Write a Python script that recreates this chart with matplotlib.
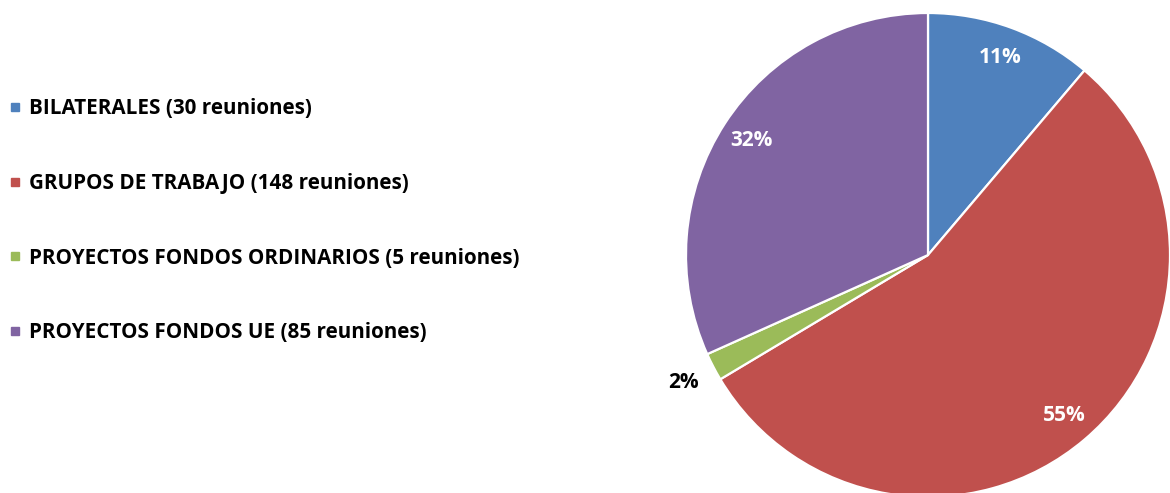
import matplotlib.pyplot as plt
from matplotlib.patches import Rectangle

# Datos del grafico
categorias = ["BILATERALES", "GRUPOS DE TRABAJO", "PROYECTOS FONDOS ORDINARIOS", "PROYECTOS FONDOS UE"]
reuniones = [30, 148, 5, 85]
colores = ["#4F81BD", "#C0504D", "#9BBB59", "#8064A2"]

fuente = "Open Sans"

fig = plt.figure(figsize=(11.7, 4.93), dpi=100)
W, H = 1170, 493

# Pie: centro (928, 255) px, radio 242 px
cx, cy, r = 928, 255, 242
ax = fig.add_axes([(cx - r) / W, (H - cy - r) / H, 2 * r / W, 2 * r / H])
wedges, textos, pcts = ax.pie(
    reuniones, colors=colores, startangle=90, counterclock=False,
    autopct=lambda p: f"{p:.0f}%", pctdistance=0.87,
    wedgeprops=dict(edgecolor="white", linewidth=1.6),
    textprops=dict(color="white", fontsize=15, fontweight="bold", family=fuente),
)
ax.set_xlim(-1, 1)
ax.set_ylim(-1, 1)
ax.set_aspect("equal")
ax.axis("off")

# la etiqueta pequeña va fuera
x, y = pcts[2].get_position()
k = 1.14 / 0.87
pcts[2].set_position((x * k, y * k))
pcts[2].set_color("black")

# Leyenda manual a la izquierda
filas_y = [107, 182, 256, 331]
for cat, n, col, fy in zip(categorias, reuniones, colores, filas_y):
    fig.patches.append(Rectangle(((11) / W, (H - fy - 4) / H), 8 / W, 8 / H,
                                 transform=fig.transFigure, color=col))
    fig.text(29 / W, (H - fy - 2) / H, f"{cat} ({n} reuniones)", fontsize=14.9,
             fontweight="bold", family=fuente, va="center", ha="left", color="black")

fig.savefig("out.png", dpi=100)
